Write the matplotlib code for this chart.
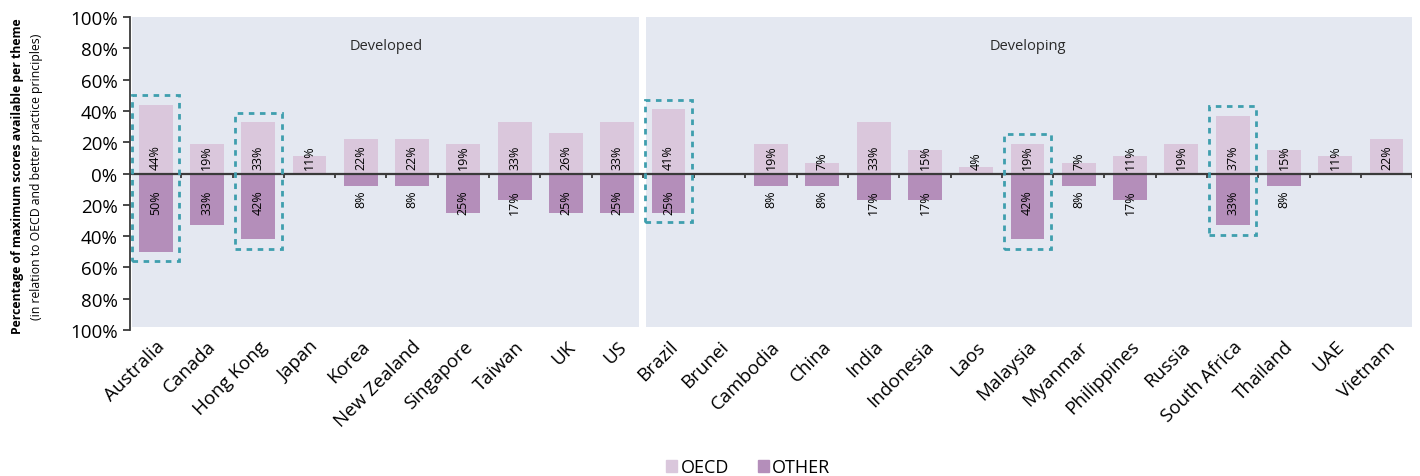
import numpy as np
import matplotlib
matplotlib.use('Agg')
import matplotlib.pyplot as plt
from matplotlib.patches import Patch, Rectangle

plt.rcParams['font.family'] = ['Open Sans', 'DejaVu Sans']

# data
countries = ['Australia', 'Canada', 'Hong Kong', 'Japan', 'Korea', 'New Zealand', 'Singapore',
             'Taiwan', 'UK', 'US', 'Brazil', 'Brunei', 'Cambodia', 'China', 'India', 'Indonesia',
             'Laos', 'Malaysia', 'Myanmar', 'Philippines', 'Russia', 'South Africa', 'Thailand',
             'UAE', 'Vietnam']
oecd = [44, 19, 33, 11, 22, 22, 19, 33, 26, 33, 41, 0, 19, 7, 33, 15, 4, 19, 7, 11, 19, 37, 15, 11, 22]
other = [50, 33, 42, 0, 8, 8, 25, 17, 25, 25, 25, 0, 8, 8, 17, 17, 0, 42, 8, 17, 0, 33, 8, 0, 0]
n_developed = 10
highlighted = ['Australia', 'Hong Kong', 'Brazil', 'Malaysia', 'South Africa']
yticks = [100, 80, 60, 40, 20, 0, -20, -40, -60, -80, -100]

c_oecd = '#dac7dc'
c_other = '#b48eba'
c_bg = '#e4e8f1'
c_box = '#3f9fae'
c_axis = '#3a3a3a'

fig = plt.figure(figsize=(14.2, 4.77), dpi=100)
ax = fig.add_axes([0.0915, 0.306, 0.903, 0.656])

x = np.arange(len(countries))
ax.set_xlim(-0.5, len(countries) - 0.5)
ax.set_ylim(-100, 100)

# background panels
ax.axvspan(-0.46, n_developed - 0.57, ymin=0.01, ymax=1, color=c_bg, lw=0, zorder=0)
ax.axvspan(n_developed - 0.43, len(countries) - 0.5, ymin=0.01, ymax=1, color=c_bg, lw=0, zorder=0)
ax.text((n_developed - 1) / 2, 82, 'Developed', ha='center', va='center', fontsize=10.5, color='#2a2a2a')
ax.text((n_developed + len(countries) - 1) / 2, 82, 'Developing', ha='center', va='center',
        fontsize=10.5, color='#2a2a2a')

bw = 0.66
ax.bar(x, oecd, width=bw, color=c_oecd, zorder=2)
ax.bar(x, [-v for v in other], width=bw, color=c_other, zorder=2)

# value labels
for i in range(len(countries)):
    if oecd[i] > 0:
        ax.text(x[i], 3, f'{oecd[i]}%', rotation=90, ha='center', va='bottom', fontsize=9, zorder=4)
    if other[i] > 0:
        ax.text(x[i], -10, f'{other[i]}%', rotation=90, ha='center', va='top', fontsize=9, zorder=4)

# dashed highlight boxes
pad = 6
for name in highlighted:
    i = countries.index(name)
    top = oecd[i] + pad
    bot = -other[i] - pad
    ax.add_patch(Rectangle((x[i] - 0.46, bot), 0.92, top - bot, fill=False, ec=c_box,
                           lw=2, ls=(0, (2, 2)), zorder=5))

# zero line with small boundary ticks
ax.axhline(0, color=c_axis, lw=1.6, zorder=3)
ax.vlines(np.arange(len(countries) + 1) - 0.5, -3, 0, color=c_axis, lw=1.3, zorder=3)

for s in ['top', 'right', 'bottom']:
    ax.spines[s].set_visible(False)
ax.spines['left'].set_color(c_axis)
ax.spines['left'].set_linewidth(1.3)

ax.set_yticks(yticks)
ax.set_yticklabels([f'{abs(t)}%' for t in yticks], fontsize=13.5)
ax.tick_params(axis='y', length=5, width=1.3, color=c_axis, pad=4)

ax.set_xticks(x)
ax.set_xticklabels(countries, rotation=45, ha='right', rotation_mode='anchor', fontsize=13.5)
ax.tick_params(axis='x', length=0, pad=5)

fig.text(0.012, 0.63, 'Percentage of maximum scores available per theme', rotation=90,
         ha='center', va='center', fontsize=8.8, fontweight='bold')
fig.text(0.026, 0.63, '(in relation to OECD and better practice principles)', rotation=90,
         ha='center', va='center', fontsize=8.8)

handles = [Patch(color=c_oecd, label='OECD'), Patch(color=c_other, label='OTHER')]
fig.legend(handles=handles, loc='lower center', bbox_to_anchor=(0.527, -0.035), ncol=2,
           frameon=False, fontsize=13, handlelength=0.6, handleheight=0.6, handletextpad=0.2,
           columnspacing=1.6)

fig.savefig('out.png', dpi=100)
